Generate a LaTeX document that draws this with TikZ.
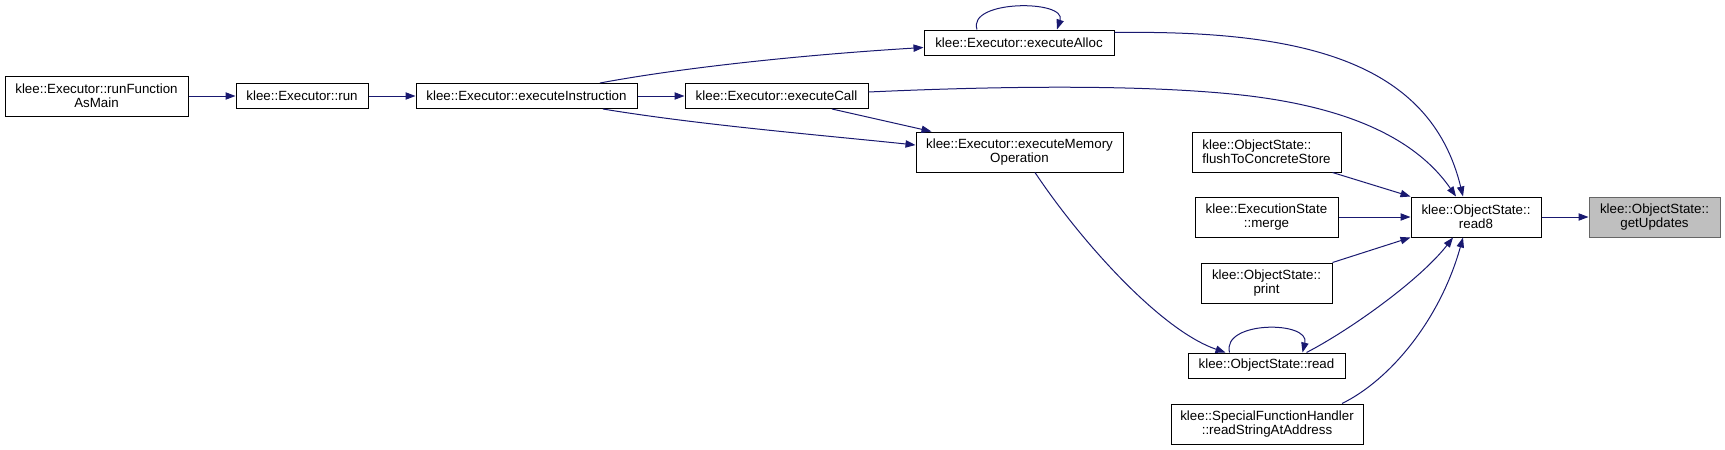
\documentclass[tikz,border=0pt]{standalone}
\usepackage{fontspec}
\setmainfont{Liberation Sans}
\usetikzlibrary{arrows.meta,calc}
\definecolor{edgeblue}{HTML}{191970}
\definecolor{hlfill}{HTML}{BFBFBF}
\definecolor{hlborder}{HTML}{666666}
\tikzset{
  fn/.style 2 args={draw=black, line width=0.75pt, inner sep=0pt, align=center,
    font=\fontsize{10}{10.5}\selectfont, minimum width=#1*0.75pt, minimum height=#2*0.75pt},
  hl/.style={fill=hlfill, draw=hlborder},
  calledge/.style={draw=edgeblue, line width=0.75pt, -{Triangle[length=7.5pt,width=5.5pt]}},
}
\begin{document}
\begin{tikzpicture}[x=0.75pt,y=-0.75pt]
\useasboundingbox (0,0) rectangle (1725,450);
% nodes
\node[fn={183}{40}] (rfam) at (96.5,96) {klee::Executor::runFunction\\AsMain};
\node[fn={132}{25}] (run) at (302,96) {klee::Executor::run};
\node[fn={221}{25}] (instr) at (526.5,96) {klee::Executor::executeInstruction};
\node[fn={183}{25}] (callnode) at (776.5,96) {klee::Executor::executeCall};
\node[fn={190}{25}] (alloc) at (1019,42.5) {klee::Executor::executeAlloc};
\node[fn={207}{40}] (mem) at (1019.5,152) {klee::Executor::executeMemory\\Operation};
\node[fn={149}{40}, align=left] (flush) at (1266.5,152) {klee::ObjectState::\\flushToConcreteStore};
\node[fn={143}{40}] (merge) at (1266.5,217) {klee::ExecutionState\\::merge};
\node[fn={131}{40}] (print) at (1266.5,283) {klee::ObjectState::\\print};
\node[fn={130}{40}] (read8) at (1476,217) {klee::ObjectState::\\read8};
\node[fn={131}{40}, hl] (getupd) at (1654.5,217) {klee::ObjectState::\\getUpdates};
\node[fn={157}{25}] (read) at (1266.5,365.5) {klee::ObjectState::read};
\node[fn={192}{40}] (rsaa) at (1267,424) {klee::SpecialFunctionHandler\\::readStringAtAddress};
% edges
\draw[calledge] (rfam.east) -- (run.west);
\draw[calledge] (run.east) -- (instr.west);
\draw[calledge] ($(instr.north)+(73.5,0)$) .. controls (680,68) and (800,55) .. ($(alloc.west)+(0,5)$);
\draw[calledge] (instr.east) -- (callnode.west);
\draw[calledge] ($(instr.south)+(76.5,0)$) .. controls (700,125) and (820,135) .. ($(mem.west)+(0,-7)$);
\draw[calledge] ($(callnode.south)+(55.5,0)$) -- ($(mem.north west)+(16,0)$);
\draw[calledge] ($(alloc.north)+(-42,0)$) .. controls +(-10,-30) and +(10,-30) .. ($(alloc.north)+(38,0)$);
\draw[calledge] ($(alloc.east)+(0,-10)$) .. controls (1300,30) and (1430,60) .. ($(read8.north)+(-13,0)$);
\draw[calledge] ($(callnode.east)+(0,-4)$) .. controls (1000,86) and (1150,84) .. (1250,96)
  .. controls (1330,106) and (1410,130) .. ($(read8.north)+(-20,0)$);
\draw[calledge] ($(mem.south)+(15.5,0)$) .. controls (1080,240) and (1160,330) .. ($(read.north)+(-41,0)$);
\draw[calledge] ($(flush.south east)+(-9,0)$) -- (read8.north west);
\draw[calledge] (merge.east) -- (read8.west);
\draw[calledge] (print.north east) -- (read8.south west);
\draw[calledge] ($(read.north)+(-37,0)$) .. controls +(-8,-32) and +(8,-32) .. ($(read.north)+(36,0)$);
\draw[calledge] ($(read.north)+(40,0)$) .. controls (1350,330) and (1420,280) .. ($(read8.south)+(-23,0)$);
\draw[calledge] ($(rsaa.north)+(75,0)$) .. controls (1390,380) and (1440,320) .. ($(read8.south)+(-13,0)$);
\draw[calledge] (read8.east) -- (getupd.west);
\end{tikzpicture}
\end{document}
